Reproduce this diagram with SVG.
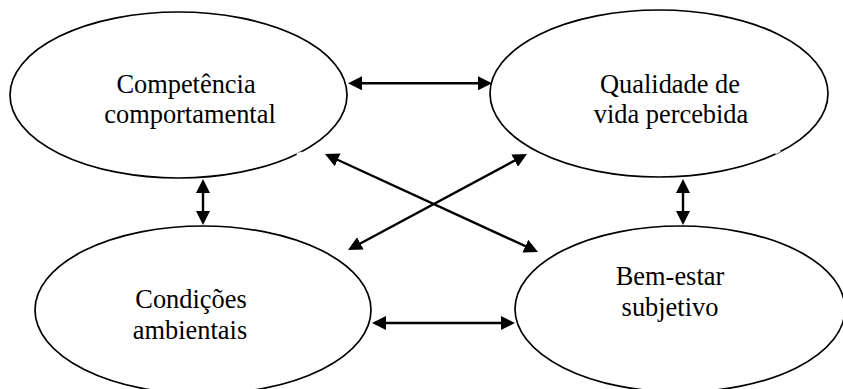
<svg xmlns="http://www.w3.org/2000/svg" width="843" height="389" viewBox="0 0 843 389">
<style>
.node ellipse{fill:#fff;stroke:#000;stroke-width:1.7}
.node text{font-family:"Liberation Serif","Times New Roman",serif;font-size:26.4px;fill:#000;text-anchor:middle}
.conn line{stroke:#000;stroke-width:2.4;marker-start:url(#ah);marker-end:url(#ah)}
.gap{stroke:#fff;stroke-width:3}
</style>
<defs>
<marker id="ah" markerUnits="userSpaceOnUse" markerWidth="14" markerHeight="14" refX="8" refY="7" orient="auto-start-reverse" viewBox="0 0 14 14">
<path d="M0,0 L14,7 L0,14 z" fill="#000"/>
</marker>
</defs>
<rect width="843" height="389" fill="#fff"/>
<g id="node-competencia" class="node">
<ellipse cx="178.5" cy="95" rx="168.5" ry="83"/>
<text x="186" y="93">Competência</text>
<text x="190" y="123">comportamental</text>
</g>
<g id="node-qualidade" class="node">
<ellipse cx="659" cy="93.5" rx="169" ry="83.5"/>
<text x="670" y="93">Qualidade de</text>
<text x="671" y="123">vida percebida</text>
</g>
<g id="node-condicoes" class="node">
<ellipse cx="203" cy="310" rx="168" ry="84"/>
<text x="191" y="308">Condições</text>
<text x="190" y="339">ambientais</text>
</g>
<g id="node-bemestar" class="node">
<ellipse cx="680" cy="309" rx="165" ry="83"/>
<text x="670" y="285">Bem-estar</text>
<text x="670" y="316">subjetivo</text>
</g>
<g id="gaps">
<line class="gap" x1="297" y1="155" x2="302" y2="153"/>
<line class="gap" x1="775" y1="153" x2="780" y2="150.5"/>
</g>
<g id="connectors" class="conn">
<line x1="354" y1="83.3" x2="486" y2="83.3"/>
<line x1="378" y1="323" x2="509" y2="323"/>
<line x1="203" y1="185" x2="203" y2="219"/>
<line x1="683" y1="185" x2="683" y2="219"/>
<line x1="330.4" y1="156.5" x2="532.6" y2="249.5"/>
<line x1="521.7" y1="156.8" x2="353.3" y2="247.2"/>
</g>
</svg>
